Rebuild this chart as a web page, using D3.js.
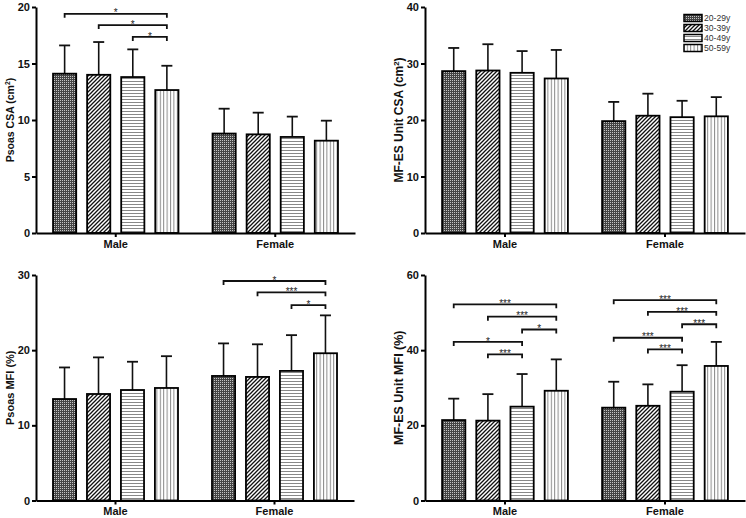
<!DOCTYPE html>
<html><head><meta charset="utf-8">
<script src="https://cdn.jsdelivr.net/npm/d3@7"></script>
<style>body{margin:0;background:#fff}svg{display:block}</style>
</head><body><svg id="c" width="746" height="518"></svg>
<script>
// ---------------- DATA ----------------
const groups = ["Male", "Female"];
const ages = ["20-29y", "30-39y", "40-49y", "50-59y"];

const psoasCSAMean = [[14.1, 14.0, 13.8, 12.65], [8.8, 8.73, 8.5, 8.17]];
const psoasCSASD   = [[2.5, 2.9, 2.45, 2.15], [2.2, 1.92, 1.8, 1.77]];
const psoasCSATicks = [0, 5, 10, 15, 20];
const psoasCSASig = [
  {group: "Male", from: 0, to: 3, level: 19.4, label: "*"},
  {group: "Male", from: 1, to: 3, level: 18.4, label: "*"},
  {group: "Male", from: 2, to: 3, level: 17.35, label: "*"}
];

const mfesCSAMean = [[28.65, 28.76, 28.35, 27.35], [19.8, 20.76, 20.5, 20.65]];
const mfesCSASD   = [[4.1, 4.65, 3.85, 5.05], [3.4, 3.9, 2.9, 3.4]];
const mfesCSATicks = [0, 10, 20, 30, 40];
const mfesCSASig = [];

const psoasMFIMean = [[13.5, 14.17, 14.7, 14.97], [16.57, 16.44, 17.24, 19.59]];
const psoasMFISD   = [[4.2, 4.87, 3.76, 4.23], [4.33, 4.34, 4.76, 5.04]];
const psoasMFITicks = [0, 10, 20, 30];
const psoasMFISig = [
  {group: "Female", from: 0, to: 3, level: 29.2, label: "*"},
  {group: "Female", from: 1, to: 3, level: 27.7, label: "***"},
  {group: "Female", from: 2, to: 3, level: 26.0, label: "*"}
];

const mfesMFIMean = [[21.4, 21.25, 24.97, 29.2], [24.7, 25.2, 28.95, 35.8]];
const mfesMFISD   = [[5.7, 7.05, 8.68, 8.35], [6.9, 5.7, 7.05, 6.4]];
const mfesMFITicks = [0, 20, 40, 60];
const mfesMFISig = [
  {group: "Male", from: 0, to: 3, level: 52.2, label: "***"},
  {group: "Male", from: 1, to: 3, level: 48.9, label: "***"},
  {group: "Male", from: 2, to: 3, level: 45.5, label: "*"},
  {group: "Male", from: 0, to: 2, level: 42.2, label: "*"},
  {group: "Male", from: 1, to: 2, level: 38.9, label: "***"},
  {group: "Female", from: 0, to: 3, level: 53.3, label: "***"},
  {group: "Female", from: 1, to: 3, level: 50.2, label: "***"},
  {group: "Female", from: 2, to: 3, level: 46.9, label: "***"},
  {group: "Female", from: 0, to: 2, level: 43.3, label: "***"},
  {group: "Female", from: 1, to: 2, level: 40.2, label: "***"}
];

// ---------------- LAYOUT ----------------
const svg = d3.select("#c");
const FONT = "'Liberation Sans', Arial, sans-serif";

// patterns
const defs = svg.append("defs");
{
  const p0 = defs.append("pattern").attr("id", "pat0").attr("patternUnits", "userSpaceOnUse").attr("width", 2).attr("height", 2);
  p0.append("rect").attr("width", 2).attr("height", 2).attr("fill", "#444");
  p0.append("rect").attr("width", 1).attr("height", 1).attr("fill", "#c4c4c4");

  const p1 = defs.append("pattern").attr("id", "pat1").attr("patternUnits", "userSpaceOnUse").attr("width", 4).attr("height", 4);
  p1.append("rect").attr("width", 4).attr("height", 4).attr("fill", "#fff");
  p1.append("path").attr("d", "M-1,5L5,-1M-1,1L1,-1M3,5L5,3").attr("stroke", "#111").attr("stroke-width", 1.3);

  const p2 = defs.append("pattern").attr("id", "pat2").attr("patternUnits", "userSpaceOnUse").attr("width", 6).attr("height", 3);
  p2.append("rect").attr("width", 6).attr("height", 3).attr("fill", "#fff");
  p2.append("rect").attr("y", 0).attr("width", 6).attr("height", 1).attr("fill", "#888");

  const p3 = defs.append("pattern").attr("id", "pat3").attr("patternUnits", "userSpaceOnUse").attr("width", 3.4).attr("height", 6);
  p3.append("rect").attr("width", 3.4).attr("height", 6).attr("fill", "#fff");
  p3.append("rect").attr("x", 0).attr("width", 1).attr("height", 6).attr("fill", "#888");
}

const panels = [
  {mean: psoasCSAMean, sd: psoasCSASD, ticks: psoasCSATicks, sig: psoasCSASig,
   left: 36, right: 355, top: 7, bottom: 233, lx: 10, title: ["Psoas CSA (cm", "2", ")"], tsize: 10.5},
  {mean: mfesCSAMean, sd: mfesCSASD, ticks: mfesCSATicks, sig: mfesCSASig,
   left: 425, right: 745, top: 7, bottom: 233, lx: 399, title: ["MF-ES Unit CSA (cm", "2", ")"], tsize: 12},
  {mean: psoasMFIMean, sd: psoasMFISD, ticks: psoasMFITicks, sig: psoasMFISig,
   left: 36, right: 354, top: 275, bottom: 500.5, lx: 10, title: ["Psoas MFI (%)"], tsize: 11},
  {mean: mfesMFIMean, sd: mfesMFISD, ticks: mfesMFITicks, sig: mfesMFISig,
   left: 425, right: 745, top: 275, bottom: 500.5, lx: 399, title: ["MF-ES Unit MFI (%)"], tsize: 12.5}
];

panels.forEach(p => {
  const g = svg.append("g");
  const ticks = p.ticks;
  const x0 = d3.scaleBand().domain(groups).range([p.left, p.right]);
  const x1 = d3.scaleBand().domain(ages).range([0, x0.bandwidth()]).paddingInner(0.32).paddingOuter(0.5);
  const y = d3.scaleLinear().domain([0, d3.max(ticks)]).range([p.bottom, p.top]);
  const bw = x1.bandwidth();

  // bars + error bars
  groups.forEach((gr, gi) => {
    ages.forEach((a, ai) => {
      const m = p.mean[gi][ai], s = p.sd[gi][ai];
      const bx = x0(gr) + x1(a);
      const cx = bx + bw / 2;
      g.append("line").attr("x1", cx).attr("x2", cx).attr("y1", y(m)).attr("y2", y(m + s))
        .attr("stroke", "#111").attr("stroke-width", 1.6);
      g.append("line").attr("x1", cx - 5.5).attr("x2", cx + 5.5).attr("y1", y(m + s)).attr("y2", y(m + s))
        .attr("stroke", "#111").attr("stroke-width", 1.8);
      g.append("rect").attr("x", bx).attr("y", y(m)).attr("width", bw).attr("height", y(0) - y(m))
        .attr("fill", `url(#pat${ai})`).attr("stroke", "#000").attr("stroke-width", 1.8);
    });
  });

  // significance brackets
  p.sig.forEach(s => {
    const gx = x0(s.group);
    const xa = gx + x1(ages[s.from]) + bw / 2;
    const xb = gx + x1(ages[s.to]) + bw / 2;
    const yy = y(s.level);
    g.append("path").attr("d", `M${xa},${yy + 4}V${yy}H${xb}V${yy + 4}`)
      .attr("fill", "none").attr("stroke", "#111").attr("stroke-width", 1.8);
    g.append("text").attr("x", (xa + xb) / 2).attr("y", yy + 2.7)
      .attr("text-anchor", "middle").attr("font-family", FONT).attr("font-size", 10)
      .attr("fill", "#222").text(s.label);
  });

  // y axis
  const ya = g.append("g").attr("transform", `translate(${p.left},0)`)
    .call(d3.axisLeft(y).tickValues(ticks).tickSize(4).tickSizeOuter(0).tickPadding(2).tickFormat(d3.format("d")));
  // x axis
  const xa = g.append("g").attr("transform", `translate(0,${p.bottom})`)
    .call(d3.axisBottom(x0).tickSize(4).tickSizeOuter(0).tickPadding(3));
  [ya, xa].forEach(ax => {
    ax.select(".domain").attr("stroke", "#000").attr("stroke-width", 2);
    ax.selectAll(".tick line").attr("stroke", "#000").attr("stroke-width", 2);
    ax.selectAll("text").attr("font-family", FONT).attr("font-size", 11)
      .attr("font-weight", "bold").attr("fill", "#111");
  });

  // y title
  const t = g.append("text")
    .attr("transform", `translate(${p.lx},${(p.top + p.bottom) / 2}) rotate(-90)`)
    .attr("text-anchor", "middle").attr("dy", "0.35em")
    .attr("font-family", FONT).attr("font-size", p.tsize).attr("font-weight", "bold").attr("fill", "#111");
  if (p.title.length === 1) t.text(p.title[0]);
  else {
    t.append("tspan").text(p.title[0]);
    t.append("tspan").attr("dy", -4).attr("font-size", p.tsize * 0.65).text(p.title[1]);
    t.append("tspan").attr("dy", 4).text(p.title[2]);
  }
});

// legend
const leg = svg.append("g");
const ly = d3.scalePoint().domain(ages).range([18, 48]);
ages.forEach((a, ai) => {
  leg.append("rect").attr("x", 684).attr("y", ly(a) - 3.5).attr("width", 18).attr("height", 7)
    .attr("fill", `url(#pat${ai})`).attr("stroke", "#000").attr("stroke-width", 1.5);
  leg.append("text").attr("x", 704).attr("y", ly(a)).attr("dy", "0.35em")
    .attr("font-family", FONT).attr("font-size", 8.6).attr("fill", "#333").text(a);
});
</script>
</body></html>
